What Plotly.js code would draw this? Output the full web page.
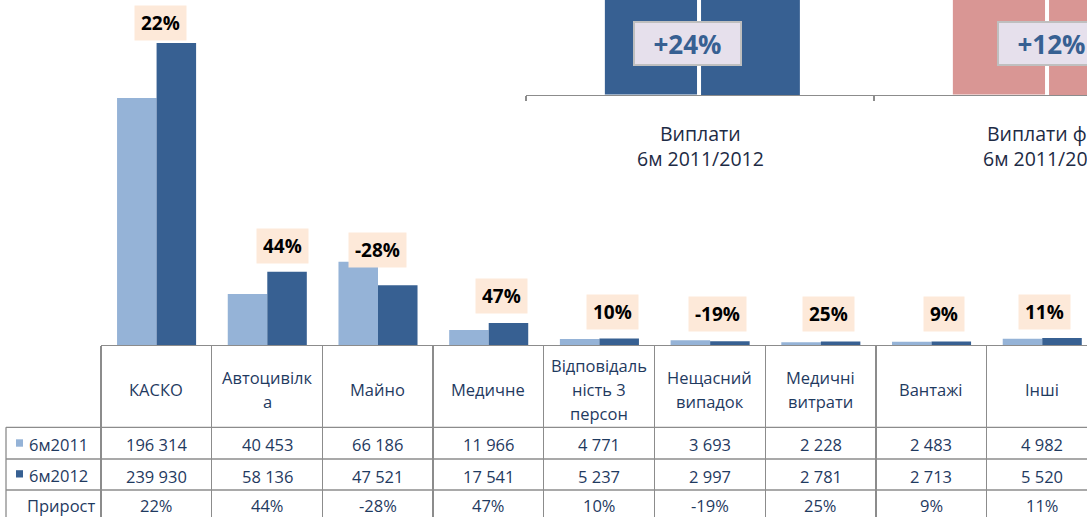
<!DOCTYPE html>
<html>
<head>
<meta charset="utf-8">
<script src="https://cdn.plot.ly/plotly-3.0.1.min.js"></script>
<style>
html,body{margin:0;padding:0;overflow:hidden;background:#fff}
#chart{width:1087px;height:517px}
</style>
</head>
<body>
<div id="chart"></div>
<script>
// ---------- data ----------
const categories = ['КАСКО', 'Автоцивілк<br>а', 'Майно', 'Медичне', 'Відповідаль<br>ність 3<br>персон', 'Нещасний<br>випадок', 'Медичні<br>витрати', 'Вантажі', 'Інші'];
const series2011 = [196314, 40453, 66186, 11966, 4771, 3693, 2228, 2483, 4982];
const series2012 = [239930, 58136, 47521, 17541, 5237, 2997, 2781, 2713, 5520];
const growthPct = [22, 44, -28, 47, 10, -19, 25, 9, 11];
const rowLabels = ['6м2011', '6м2012', 'Прирост'];

// top-right inset (bars run off the top of the picture)
const insetCategories = ['Виплати<br>6м 2011/2012', 'Виплати фіз.<br>6м 2011/2012'];
const inset2011 = [100, 100];
const inset2012 = [124, 112];
const insetGrowth = ['+24%', '+12%'];

// ---------- layout helpers (positions / styles) ----------
const W = 1087, H = 517;
const px = x => x / W;
const py = y => (H - y) / H;
const LIGHT = '#95B3D7', DARK = '#376092', PINK = '#D99694';
const GRID = '#8c8c8c', TXT = '#1f3a5f';
const FONT = '"Open Sans", "Noto Sans", "DejaVu Sans", sans-serif';
const CAT_PX = 110.71;          // pixel width of one category
const INSET_CAT_PX = 348;
const fmt = v => String(v).replace(/\B(?=(\d{3})+(?!\d))/g, ' ');

// label placement tweaks (pixels) relative to category centre / tallest bar
const labelDx = [4.4, 15.6, -0.7, 13, 13.4, 7.1, 8, 13, 2];
const labelDy = [19.7, 25.5, 11.2, 26.6, 26.4, 25.9, 28, 27.1, 26];

const idx = categories.map((_, i) => i);
const boundaries = categories.map((_, i) => i - 0.5).concat([categories.length - 0.5]);

const traces = [
  {type: 'bar', x: idx, y: series2011, offset: -0.355, width: 0.357,
   marker: {color: LIGHT}, xaxis: 'x', yaxis: 'y', hoverinfo: 'skip', name: '6м2011'},
  {type: 'bar', x: idx, y: series2012, offset: 0.002, width: 0.357,
   marker: {color: DARK}, xaxis: 'x', yaxis: 'y', hoverinfo: 'skip', name: '6м2012'},
  {type: 'bar', x: insetCategories.map((_, i) => i), y: inset2011, offset: -0.275, width: 0.268,
   marker: {color: [DARK, PINK], line: {color: '#ffffff', width: 1}}, xaxis: 'x2', yaxis: 'y2', hoverinfo: 'skip'},
  {type: 'bar', x: insetCategories.map((_, i) => i), y: inset2012, offset: 0.003, width: 0.284,
   marker: {color: [DARK, PINK]}, xaxis: 'x2', yaxis: 'y2', hoverinfo: 'skip'}
];

const annotations = [];
const ann = o => Object.assign({showarrow: false, font: {family: FONT, size: 16.5, color: TXT}}, o);

// growth labels above the bars
categories.forEach((c, i) => {
  annotations.push(ann({
    xref: 'x', yref: 'y', x: i, y: Math.max(series2011[i], series2012[i]),
    xanchor: 'center', yanchor: 'middle', xshift: labelDx[i], yshift: labelDy[i],
    text: '<b>' + growthPct[i] + '%</b>',
    font: {family: FONT, size: 19, color: '#000000'},
    bgcolor: '#FDE9D9', borderpad: 6, height: 22
  }));
});

// table header (category names)
categories.forEach((c, i) => {
  const lines = c.split('<br>');
  lines.forEach((t, k) => annotations.push(ann({
    xref: 'x', yref: 'paper', x: i, y: py(389), xanchor: 'center', yanchor: 'middle',
    yshift: -(k - (lines.length - 1) / 2) * 24, text: t
  })));
});

// table values
const rowY = [444.5, 476, 505.5];
categories.forEach((c, i) => {
  annotations.push(ann({xref: 'x', yref: 'paper', x: i, y: py(rowY[0]), xanchor: 'center', yanchor: 'middle', text: fmt(series2011[i])}));
  annotations.push(ann({xref: 'x', yref: 'paper', x: i, y: py(rowY[1]), xanchor: 'center', yanchor: 'middle', text: fmt(series2012[i])}));
  annotations.push(ann({xref: 'x', yref: 'paper', x: i, y: py(rowY[2]), xanchor: 'center', yanchor: 'middle', text: growthPct[i] + '%'}));
});

// row labels
annotations.push(ann({xref: 'paper', yref: 'paper', x: px(27), y: py(444), xanchor: 'left', yanchor: 'middle', text: rowLabels[0]}));
annotations.push(ann({xref: 'paper', yref: 'paper', x: px(27), y: py(475.5), xanchor: 'left', yanchor: 'middle', text: rowLabels[1]}));
annotations.push(ann({xref: 'paper', yref: 'paper', x: px(98), y: py(505.5), xanchor: 'right', yanchor: 'middle', text: rowLabels[2]}));

// inset category labels
insetCategories.forEach((c, i) => {
  const lines = c.split('<br>');
  lines.forEach((t, k) => annotations.push(ann({
    xref: 'x2', yref: 'paper', x: i, y: py(146), xanchor: 'center', yanchor: 'middle',
    xshift: i === 0 ? 0.5 : -2,
    yshift: -(k - (lines.length - 1) / 2) * 25, text: t,
    font: {family: FONT, size: 19.5, color: '#1d2b45'}
  })));
});

// inset growth boxes
const insetDx = [-13, 3];
insetGrowth.forEach((g, i) => {
  annotations.push(ann({
    xref: 'x2', yref: 'paper', x: i, y: py(43.3), xanchor: 'center', yanchor: 'middle',
    xshift: insetDx[i], text: '<b>' + g + '</b>',
    font: {family: FONT, size: 26, color: DARK},
    bgcolor: '#E6E0EC', bordercolor: '#BFBFBF', borderwidth: 2, borderpad: 4,
    width: 97, height: 33
  }));
});

// table grid + legend keys
const shapes = [];
[427.3, 459, 490].forEach(y => shapes.push({type: 'line', xref: 'paper', yref: 'paper',
  x0: px(6), x1: 1, y0: py(y), y1: py(y), line: {color: GRID, width: 1.3}}));
shapes.push({type: 'line', xref: 'paper', yref: 'paper', x0: px(6), x1: px(6), y0: py(427.3), y1: 0,
  line: {color: GRID, width: 1.3}});
shapes.push({type: 'rect', xref: 'paper', yref: 'paper', x0: px(16), x1: px(23), y0: py(446.7), y1: py(439.3),
  fillcolor: LIGHT, line: {width: 0}});
shapes.push({type: 'rect', xref: 'paper', yref: 'paper', x0: px(16), x1: px(23), y0: py(477.5), y1: py(470.2),
  fillcolor: DARK, line: {width: 0}});

const layout = {
  width: W, height: H,
  margin: {l: 0, r: 0, t: 0, b: 0, pad: 0},
  paper_bgcolor: '#ffffff', plot_bgcolor: 'rgba(0,0,0,0)',
  showlegend: false,
  barmode: 'group',
  font: {family: FONT, color: TXT},
  xaxis: {
    domain: [px(101), 1], range: [-0.5, -0.5 + (W - 101) / CAT_PX],
    type: 'linear', showgrid: false, zeroline: false,
    showline: true, linecolor: GRID, linewidth: 1.3,
    tickmode: 'array', tickvals: boundaries, ticks: 'outside', ticklen: 172,
    tickwidth: 1.3, tickcolor: GRID, showticklabels: false, fixedrange: true
  },
  yaxis: {
    domain: [py(345), 1], range: [0, 274100], visible: false, fixedrange: true
  },
  xaxis2: {
    anchor: 'y2', domain: [px(526), 1], range: [-0.5, -0.5 + (W - 526) / INSET_CAT_PX],
    type: 'linear', showgrid: false, zeroline: false,
    showline: true, linecolor: GRID, linewidth: 1.3,
    tickmode: 'array', tickvals: [-0.5, 0.5, 1.5], ticks: 'outside', ticklen: 5,
    tickwidth: 1.3, tickcolor: GRID, showticklabels: false, fixedrange: true
  },
  yaxis2: {
    anchor: 'x2', domain: [py(95), 1], range: [0, 60], visible: false, fixedrange: true
  },
  annotations: annotations,
  shapes: shapes
};

Plotly.newPlot('chart', traces, layout, {displayModeBar: false, staticPlot: true});
</script>
</body>
</html>
